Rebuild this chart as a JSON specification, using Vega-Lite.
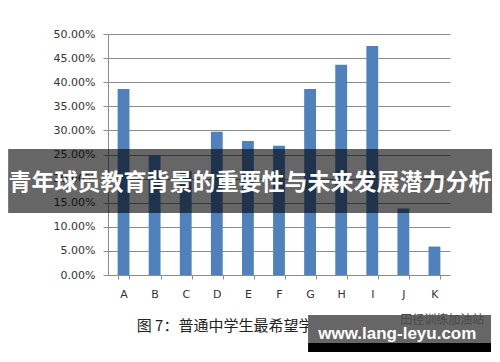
{
  "$schema": "https://vega.github.io/schema/vega-lite/v6.json",
  "autosize": {"type": "none"},
  "width": 342,
  "height": 241,
  "padding": {"left": 108, "top": 34, "right": 50, "bottom": 87},
  "background": "white",
  "config": {"view": {"stroke": null}},
  "resolve": {"scale": {"x": "independent"}, "axis": {"x": "independent", "y": "independent"}},
  "layer": [
    {
      "data": {"values": [
        {"course": "A", "value": 0.386},
        {"course": "B", "value": 0.249},
        {"course": "C", "value": 0.216},
        {"course": "D", "value": 0.297},
        {"course": "E", "value": 0.278},
        {"course": "F", "value": 0.268},
        {"course": "G", "value": 0.386},
        {"course": "H", "value": 0.436},
        {"course": "I", "value": 0.475},
        {"course": "J", "value": 0.138},
        {"course": "K", "value": 0.059}
      ]},
      "mark": {"type": "bar", "color": "#4F81BD"},
      "encoding": {
        "x": {
          "field": "course", "type": "nominal",
          "scale": {"paddingInner": 0.62, "paddingOuter": 0.31},
          "axis": {
            "title": null, "labelAngle": 0, "labelFont": "DejaVu Sans", "labelFontSize": 11,
            "labelColor": "#333333", "tickBand": "extent", "tickSize": 4, "tickColor": "#8c8c8c",
            "domainColor": "#8c8c8c", "labelPadding": 9, "grid": false
          }
        },
        "y": {
          "field": "value", "type": "quantitative",
          "scale": {"domain": [0, 0.5], "nice": false},
          "axis": {
            "title": null, "format": ".2%", "values": [0, 0.05, 0.1, 0.15, 0.2, 0.25, 0.3, 0.35, 0.4, 0.45, 0.5],
            "labelOverlap": false,
            "labelFont": "DejaVu Sans", "labelFontSize": 11, "labelColor": "#333333",
            "tickSize": 5, "tickColor": "#8c8c8c", "domainColor": "#8c8c8c",
            "gridColor": "#8c8c8c", "grid": true, "labelPadding": 8
          }
        }
      }
    },
    {
      "data": {"values": [{"x1": -0.292, "x2": 1.123, "y1": 0.2614, "y2": 0.1286}]},
      "mark": {"type": "rect", "color": "#000000", "opacity": 0.6},
      "encoding": {
        "x": {"field": "x1", "type": "quantitative", "scale": {"domain": [0, 1]}, "axis": null},
        "x2": {"field": "x2"},
        "y": {"field": "y1", "type": "quantitative", "axis": null},
        "y2": {"field": "y2"}
      }
    },
    {
      "data": {"values": [{"fx": 0.415, "fy": 0.19, "label": "青年球员教育背景的重要性与未来发展潜力分析"}]},
      "mark": {"type": "text", "color": "white", "font": "Noto Sans CJK SC", "fontWeight": "bold", "fontSize": 23, "align": "center", "baseline": "middle"},
      "encoding": {
        "x": {"field": "fx", "type": "quantitative", "scale": {"domain": [0, 1]}, "axis": null},
        "y": {"field": "fy", "type": "quantitative", "axis": null},
        "text": {"field": "label"}
      }
    },
    {
      "data": {"values": [{"fx": 0.43, "fy": -0.106, "label": "图 7：普通中学生最希望学习的课程"}]},
      "mark": {"type": "text", "color": "#222222", "font": "Noto Sans CJK SC", "fontSize": 15, "align": "center", "baseline": "middle"},
      "encoding": {
        "x": {"field": "fx", "type": "quantitative", "scale": {"domain": [0, 1]}, "axis": null},
        "y": {"field": "fy", "type": "quantitative", "axis": null},
        "text": {"field": "label"}
      }
    },
    {
      "data": {"values": [{"x1": 0.585, "x2": 1.12, "y1": -0.083, "y2": -0.141}]},
      "mark": {"type": "rect", "color": "#666666"},
      "encoding": {
        "x": {"field": "x1", "type": "quantitative", "scale": {"domain": [0, 1]}, "axis": null},
        "x2": {"field": "x2"},
        "y": {"field": "y1", "type": "quantitative", "axis": null},
        "y2": {"field": "y2"}
      }
    },
    {
      "data": {"values": [{"x1": 0.585, "x2": 1.12, "y1": -0.141, "y2": -0.16}]},
      "mark": {"type": "rect", "color": "#000000"},
      "encoding": {
        "x": {"field": "x1", "type": "quantitative", "scale": {"domain": [0, 1]}, "axis": null},
        "x2": {"field": "x2"},
        "y": {"field": "y1", "type": "quantitative", "axis": null},
        "y2": {"field": "y2"}
      }
    },
    {
      "data": {"values": [{"fx": 0.977, "fy": -0.093, "label": "田径训练加油站"}]},
      "mark": {"type": "text", "color": "#4a4a4a", "font": "Noto Sans CJK SC", "fontSize": 12, "align": "center", "baseline": "middle"},
      "encoding": {
        "x": {"field": "fx", "type": "quantitative", "scale": {"domain": [0, 1]}, "axis": null},
        "y": {"field": "fy", "type": "quantitative", "axis": null},
        "text": {"field": "label"}
      }
    },
    {
      "data": {"values": [{"fx": 0.846, "fy": -0.122, "label": "www.lang-leyu.com"}]},
      "mark": {"type": "text", "color": "white", "font": "Liberation Sans", "fontWeight": "bold", "fontSize": 17, "align": "center", "baseline": "middle"},
      "encoding": {
        "x": {"field": "fx", "type": "quantitative", "scale": {"domain": [0, 1]}, "axis": null},
        "y": {"field": "fy", "type": "quantitative", "axis": null},
        "text": {"field": "label"}
      }
    }
  ]
}
